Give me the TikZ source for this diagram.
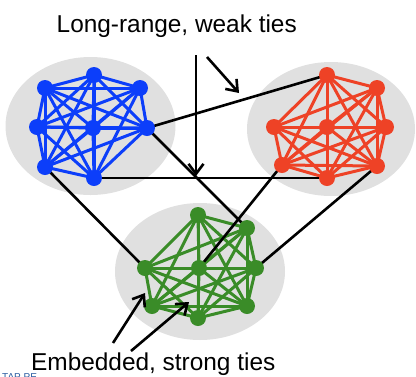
\documentclass[tikz,border=0pt]{standalone}
\usepackage{fontspec}
\setmainfont{Liberation Sans}
\usetikzlibrary{arrows.meta}

\definecolor{netblue}{RGB}{12,62,250}
\definecolor{netred}{RGB}{238,66,38}
\definecolor{netgreen}{RGB}{58,140,40}
\definecolor{cloudgray}{RGB}{224,224,224}
\definecolor{tapblue}{RGB}{40,90,160}

\pgfdeclarelayer{cloudlayer}
\pgfdeclarelayer{tielayer}
\pgfdeclarelayer{weaklayer}
\pgfsetlayers{cloudlayer,tielayer,weaklayer,main}

\begin{document}
\begin{tikzpicture}[x=1pt,y=-1pt,
  cloud/.style={fill=cloudgray,draw=none},
  dot/.style={circle,fill=#1,draw=none,inner sep=0pt,minimum size=16pt},
  tie/.style={line width=3pt,draw=#1},
  weak/.style={line width=2.6pt,draw=black},
  pointer/.style={line width=2.6pt,draw=black,-{Straight Barb[length=10pt,width=15pt]}},
  caption/.style={anchor=base west,inner sep=0pt,font=\fontsize{24.4}{29}\selectfont}
]
\useasboundingbox (0,0) rectangle (416,376);
\clip (0,0) rectangle (416,376);

% gray backgrounds of the three communities
\begin{pgfonlayer}{cloudlayer}
  \fill[cloud] (90.5,126) ellipse [x radius=85,y radius=69];
  \fill[cloud] (331,129) ellipse [x radius=84,y radius=67];
  \fill[cloud] (200,271.5) ellipse [x radius=85,y radius=68.5];
\end{pgfonlayer}

% blue community
\node[dot=netblue] (b1) at (45,88) {};
\node[dot=netblue] (b2) at (94,75) {};
\node[dot=netblue] (b3) at (140,88) {};
\node[dot=netblue] (b4) at (37,127) {};
\node[dot=netblue] (b5) at (93,128) {};
\node[dot=netblue] (b6) at (147,128) {};
\node[dot=netblue] (b7) at (45,167) {};
\node[dot=netblue] (b8) at (94,178) {};

% red community
\node[dot=netred] (r1) at (327,75) {};
\node[dot=netred] (r2) at (377,88) {};
\node[dot=netred] (r3) at (274,127) {};
\node[dot=netred] (r4) at (327,127) {};
\node[dot=netred] (r5) at (386,127) {};
\node[dot=netred] (r6) at (282,165) {};
\node[dot=netred] (r7) at (327,178) {};
\node[dot=netred] (r8) at (377,166) {};

% green community
\node[dot=netgreen] (g1) at (198,215) {};
\node[dot=netgreen] (g2) at (247,228) {};
\node[dot=netgreen] (g3) at (145,268) {};
\node[dot=netgreen] (g4) at (199,268) {};
\node[dot=netgreen] (g5) at (256,268) {};
\node[dot=netgreen] (g6) at (152,306) {};
\node[dot=netgreen] (g7) at (198,318) {};
\node[dot=netgreen] (g8) at (247,306) {};

% strong ties: every pair inside a community
\begin{pgfonlayer}{tielayer}
  \foreach \c/\col in {b/netblue,r/netred,g/netgreen}{
    \foreach \i in {1,...,7}{
      \pgfmathtruncatemacro\nxt{\i+1}
      \foreach \j in {\nxt,...,8}{
        \draw[tie=\col] (\c\i.center) -- (\c\j.center);
      }
    }
  }
\end{pgfonlayer}

% weak ties between communities
\begin{pgfonlayer}{weaklayer}
  \draw[weak] (b6.center) -- (r1.center);
  \draw[weak] (b6.center) -- (g2.center);
  \draw[weak] (b8.center) -- (r7.center);
  \draw[weak] (b7.center) -- (g3.center);
  \draw[weak] (r6.center) -- (g4.center);
  \draw[weak] (r8.center) -- (g5.center);
\end{pgfonlayer}

% labels and pointers
\node[caption] (weaklabel) at (56.5,32) {Long-range, weak ties};
\node[caption] (stronglabel) at (31,370.5) {Embedded, strong ties};
\node[anchor=base west,inner sep=0pt,text=tapblue,font=\fontsize{10}{12}\selectfont] (tap) at (2,380.5) {TAP PE};

\coordinate (p1s) at (196,55);
\coordinate (p1e) at (196,176);
\coordinate (p2s) at (207,57);
\coordinate (p2e) at (239,93);
\coordinate (p3s) at (113,343);
\coordinate (p3e) at (145,293);
\coordinate (p4s) at (131,351);
\coordinate (p4e) at (189,302);
\draw[pointer] (p1s) -- (p1e);
\draw[pointer] (p2s) -- (p2e);
\draw[pointer] (p3s) -- (p3e);
\draw[pointer] (p4s) -- (p4e);
\end{tikzpicture}
\end{document}
